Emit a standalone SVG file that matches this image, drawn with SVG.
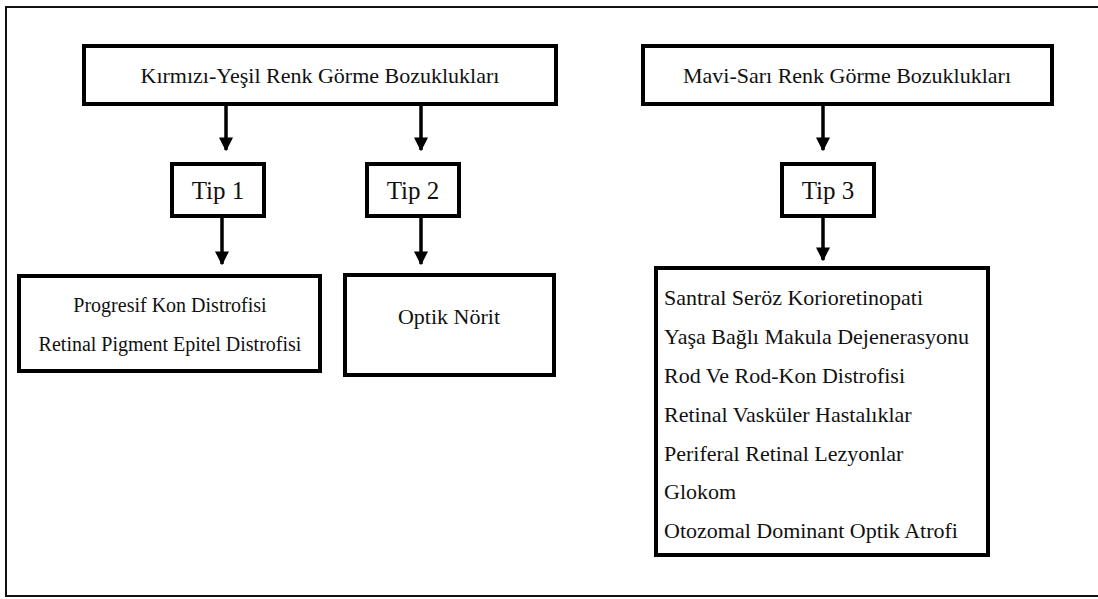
<svg xmlns="http://www.w3.org/2000/svg" width="1098" height="599" viewBox="0 0 1098 599">
<style>
.box{fill:#fff;stroke:#000;stroke-width:4}
text{font-family:'Liberation Serif','Times New Roman','DejaVu Serif',serif;fill:#111}
.c{text-anchor:middle}
.conn{stroke:#000;stroke-width:3.5;fill:none}
</style>
<defs>
<marker id="ah" viewBox="0 0 10 10" refX="9" refY="5" markerWidth="4" markerHeight="4" orient="auto" markerUnits="strokeWidth">
<path d="M0,0 L10,5 L0,10 Z" fill="#000"/>
</marker>
</defs>
<rect width="1098" height="599" fill="#fff"/>
<path d="M1100,7 H6 V596 H1100" fill="none" stroke="#111" stroke-width="2"/>
<g id="connectors">
<line class="conn" x1="226" y1="104" x2="226" y2="150" marker-end="url(#ah)"/>
<line class="conn" x1="421" y1="104" x2="421" y2="150" marker-end="url(#ah)"/>
<line class="conn" x1="823" y1="104" x2="823" y2="150" marker-end="url(#ah)"/>
<line class="conn" x1="222" y1="216" x2="222" y2="264" marker-end="url(#ah)"/>
<line class="conn" x1="421" y1="216" x2="421" y2="264" marker-end="url(#ah)"/>
<line class="conn" x1="823" y1="216" x2="823" y2="260" marker-end="url(#ah)"/>
</g>
<g id="kirmizi">
<rect class="box" x="84" y="46" width="472" height="58"/>
<text class="c" x="320" y="83" font-size="22" font-family="Liberation Serif, serif">Kırmızı-Yeşil Renk Görme Bozuklukları</text>
</g>
<g id="mavi">
<rect class="box" x="643" y="46" width="409" height="58"/>
<text class="c" x="847" y="83" font-size="22" font-family="Liberation Serif, serif">Mavi-Sarı Renk Görme Bozuklukları</text>
</g>
<g id="tip1">
<rect class="box" x="172" y="164" width="92" height="52"/>
<text class="c" x="218" y="199" font-size="25" font-family="Liberation Serif, serif">Tip 1</text>
</g>
<g id="tip2">
<rect class="box" x="367" y="164" width="92" height="52"/>
<text class="c" x="413" y="199" font-size="25" font-family="Liberation Serif, serif">Tip 2</text>
</g>
<g id="tip3">
<rect class="box" x="782" y="164" width="92" height="52"/>
<text class="c" x="828" y="199" font-size="25" font-family="Liberation Serif, serif">Tip 3</text>
</g>
<g id="tip1-list">
<rect class="box" x="19" y="276" width="301" height="95"/>
<text class="c" x="170" y="312" font-size="20" font-family="Liberation Serif, serif">Progresif Kon Distrofisi</text>
<text class="c" x="170" y="351" font-size="20" font-family="Liberation Serif, serif">Retinal Pigment Epitel Distrofisi</text>
</g>
<g id="tip2-list">
<rect class="box" x="345" y="275" width="209" height="100"/>
<text class="c" x="449" y="324" font-size="22" font-family="Liberation Serif, serif">Optik Nörit</text>
</g>
<g id="tip3-list" font-family="Liberation Serif, serif" font-size="22">
<rect class="box" x="656" y="268" width="332" height="287"/>
<text x="664" y="305">Santral Seröz Korioretinopati</text>
<text x="664" y="344">Yaşa Bağlı Makula Dejenerasyonu</text>
<text x="664" y="383">Rod Ve Rod-Kon Distrofisi</text>
<text x="664" y="422">Retinal Vasküler Hastalıklar</text>
<text x="664" y="461">Periferal Retinal Lezyonlar</text>
<text x="664" y="499">Glokom</text>
<text x="664" y="538">Otozomal Dominant Optik Atrofi</text>
</g>
</svg>
